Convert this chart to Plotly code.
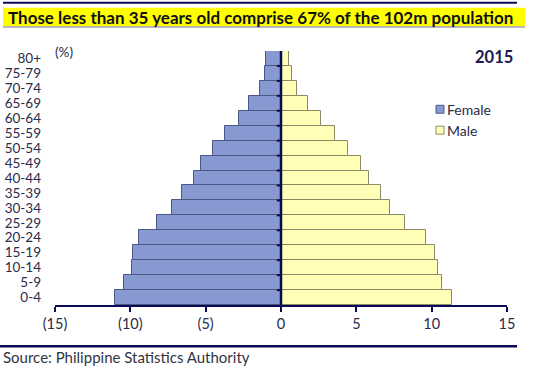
import plotly.graph_objects as go

categories = ["0-4", "5-9", "10-14", "15-19", "20-24", "25-29", "30-34", "35-39",
              "40-44", "45-49", "50-54", "55-59", "60-64", "65-69", "70-74", "75-79", "80+"]
female = [11.0, 10.4, 9.9, 9.8, 9.45, 8.2, 7.25, 6.55, 5.8, 5.3, 4.5, 3.7, 2.8, 2.1, 1.4, 1.05, 1.0]
male = [11.35, 10.7, 10.4, 10.25, 9.6, 8.25, 7.25, 6.65, 5.85, 5.3, 4.45, 3.6, 2.65, 1.8, 1.05, 0.7, 0.55]
x_ticks = [-15, -10, -5, 0, 5, 10, 15]
x_ticktext = ["(15)", "(10)", "(5)", "0", "5", "10", "15"]
series_names = ["Female", "Male"]

W, H = 538, 369
L, R, T, B = 55, 31, 50.5, 63.5
PW, PH = W - L - R, H - T - B

def px(x):
    return (x - L) / PW

def py(y):
    return (H - B - y) / PH

NAVY = "#0b0b55"
TXT = "#2b2b4a"
FONT = "Lato, 'Open Sans', sans-serif"
F_FILL, F_LINE = "#8799d0", "#4a5886"
M_FILL, M_LINE = "#ffffb6", "#8c8a66"

fig = go.Figure()
fig.add_trace(go.Bar(y=categories, x=[-v for v in female], orientation="h", name=series_names[0],
                     marker=dict(color=F_FILL, line=dict(color=F_LINE, width=1)),
                     width=1.0, showlegend=False))
fig.add_trace(go.Bar(y=categories, x=male, orientation="h", name=series_names[1],
                     marker=dict(color=M_FILL, line=dict(color=M_LINE, width=1)),
                     width=1.0, showlegend=False))

shapes = []
# zero axis line
shapes.append(dict(type="line", xref="x", yref="paper", x0=0, x1=0, y0=0, y1=1,
                   line=dict(color=NAVY, width=2.5), layer="above"))
# small ticks on the zero axis at category boundaries
for i in range(len(categories) - 1):
    shapes.append(dict(type="line", xref="x", yref="y", x0=-0.28, x1=0, y0=i + 0.5, y1=i + 0.5,
                       line=dict(color=NAVY, width=2), layer="above"))
# top rule
shapes.append(dict(type="line", xref="paper", yref="paper", x0=px(3), x1=px(517), y0=py(2), y1=py(2),
                   line=dict(color=NAVY, width=2)))
# title highlight
shapes.append(dict(type="rect", xref="paper", yref="paper", x0=px(3), x1=px(525), y0=py(26), y1=py(7),
                   fillcolor="#ffff00", line=dict(width=0), layer="below"))
shapes.append(dict(type="line", xref="paper", yref="paper", x0=px(3), x1=px(525), y0=py(26.5), y1=py(26.5),
                   line=dict(color="#a0a0b8", width=1.5)))
# bottom rule
shapes.append(dict(type="line", xref="paper", yref="paper", x0=px(0), x1=px(517), y0=py(347), y1=py(347),
                   line=dict(color=NAVY, width=2.5)))

annotations = [
    dict(text="<b>Those less than 35 years old comprise 67% of the 102m population</b>",
         xref="paper", yref="paper", x=px(6), y=py(16.5), xanchor="left", yanchor="middle",
         showarrow=False, font=dict(family=FONT, size=17, color="#111111")),
    dict(text="(%)", xref="paper", yref="paper", x=px(53), y=py(52), xanchor="left", yanchor="middle",
         showarrow=False, font=dict(family=FONT, size=13.5, color=TXT)),
    dict(text="<b>2015</b>", xref="paper", yref="paper", x=px(515), y=py(57), xanchor="right", yanchor="middle",
         showarrow=False, font=dict(family=FONT, size=16.5, color="#1a1a50")),
    dict(text="Source: Philippine Statistics Authority", xref="paper", yref="paper", x=px(1), y=py(358),
         xanchor="left", yanchor="middle", showarrow=False, font=dict(family=FONT, size=15, color="#333344")),
]

# custom legend
for k, (name, fill, edge) in enumerate([(series_names[0], F_FILL, F_LINE), (series_names[1], M_FILL, M_LINE)]):
    yc = 109 + 21 * k
    shapes.append(dict(type="rect", xref="paper", yref="paper", x0=px(436), x1=px(444),
                       y0=py(yc + 4), y1=py(yc - 4), fillcolor=fill, line=dict(color=edge, width=1)))
    annotations.append(dict(text=name, xref="paper", yref="paper", x=px(445), y=py(yc), xanchor="left",
                            yanchor="middle", showarrow=False, font=dict(family=FONT, size=14, color=TXT)))

fig.update_layout(
    width=W, height=H,
    margin=dict(l=L, r=R, t=T, b=B, pad=0, autoexpand=False),
    paper_bgcolor="white", plot_bgcolor="white",
    barmode="relative", bargap=0,
    shapes=shapes, annotations=annotations,
    font=dict(family=FONT, size=13.5, color=TXT),
    showlegend=False,
    xaxis=dict(range=[-15, 15], tickvals=x_ticks, ticktext=x_ticktext, showgrid=False, zeroline=False,
               showline=True, linecolor=NAVY, linewidth=2, ticks="outside", ticklen=5, tickwidth=2,
               tickcolor=NAVY, tickfont=dict(family=FONT, size=14.5, color=TXT), automargin=False),
    yaxis=dict(categoryorder="array", categoryarray=categories, range=[-0.5, 16.5], showgrid=False,
               tickmode="array", tickvals=categories, ticktext=categories, automargin=False,
               zeroline=False, showline=False, ticks="", ticklabelstandoff=13,
               tickfont=dict(family=FONT, size=13.5, color=TXT)),
)

fig.write_html("out.html")
